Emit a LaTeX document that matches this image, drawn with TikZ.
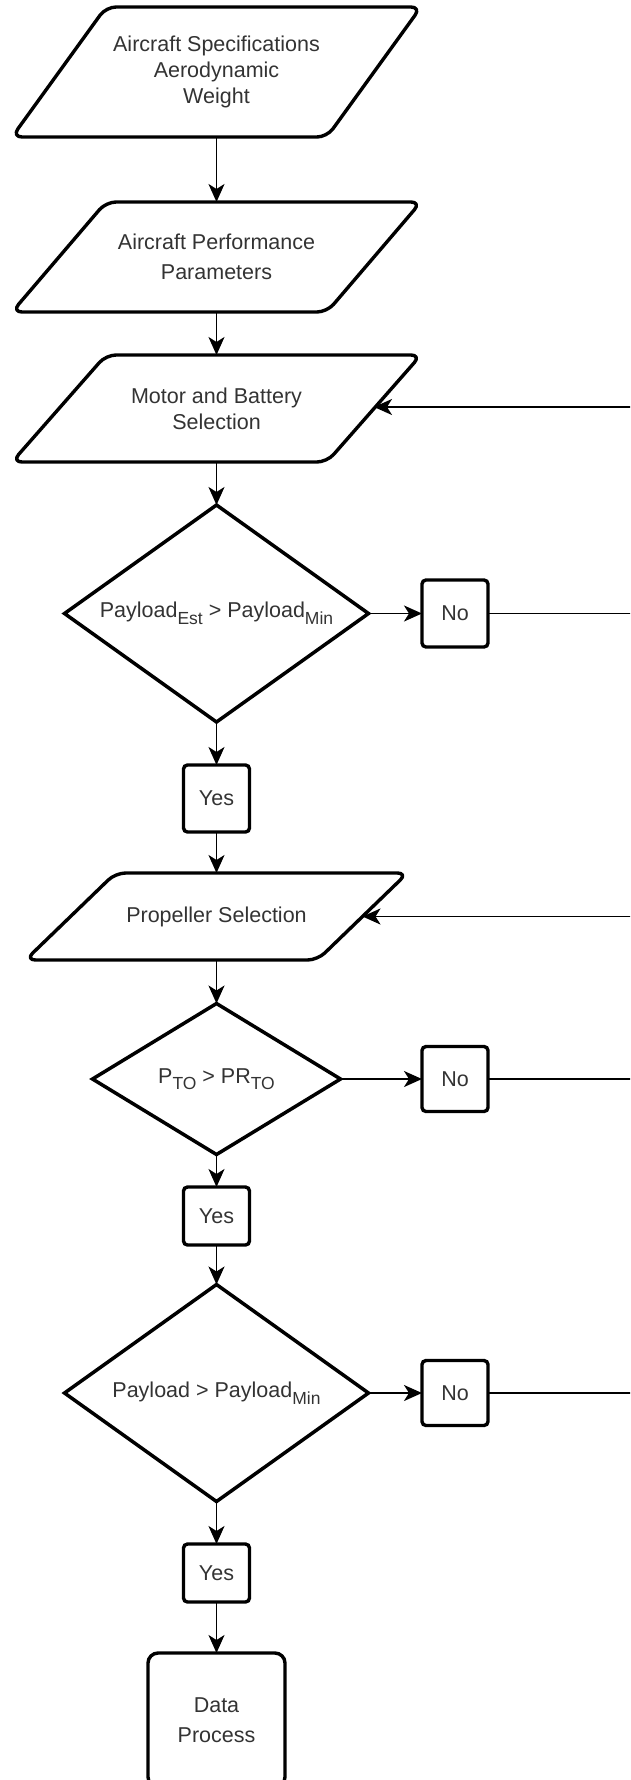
\documentclass[tikz,border=0pt]{standalone}
\usepackage{fontspec}
\setmainfont{Liberation Sans}
\usetikzlibrary{arrows.meta,calc}
\definecolor{txt}{HTML}{333333}
\newcommand{\sbs}[1]{\raisebox{-6.5pt}{\fontsize{17.5}{17.5}\selectfont #1}}
\begin{document}
\begin{tikzpicture}[x=1pt,y=-1pt,
  lbl/.style={inner sep=0pt, outer sep=0pt, text=txt, font=\fontsize{21.5}{26}\selectfont, align=center},
  shp/.style={draw=black, line width=3.4pt, rounded corners=10pt, line join=round},
  dia/.style={draw=black, line width=3.5pt, line join=miter},
  tbox/.style={lbl, draw=black, line width=3.4pt, rounded corners=4pt, minimum width=66pt},
  conn/.style={draw=black, line width=1.8pt, -{Stealth[length=18pt,width=16pt,inset=5pt]}},
  plainln/.style={draw=black, line width=1.8pt},
]
\useasboundingbox (0,0) rectangle (630,1780);
\clip (0,0) rectangle (630,1780);

% parallelogram boxes
\node[lbl, minimum width=409pt, minimum height=130pt] (p1) at (216.5,72) {Aircraft Specifications\\Aerodynamic\\Weight};
\draw[shp] ($(p1.north west)+(94,0)$) -- (p1.north east) -- ($(p1.south east)-(94,0)$) -- (p1.south west) -- cycle;

\node[lbl, minimum width=409pt, minimum height=110pt] (p2) at (216.5,257) {Aircraft Performance\\[4pt]Parameters};
\draw[shp] ($(p2.north west)+(94,0)$) -- (p2.north east) -- ($(p2.south east)-(94,0)$) -- (p2.south west) -- cycle;

\node[lbl, minimum width=409pt, minimum height=107pt] (p3) at (216.5,408.5) {Motor and Battery\\Selection};
\draw[shp] ($(p3.north west)+(94,0)$) -- (p3.north east) -- ($(p3.south east)-(94,0)$) -- (p3.south west) -- cycle;

\node[lbl, minimum width=382pt, minimum height=87pt] (p4) at (216.5,916.5) {Propeller Selection};
\draw[shp] ($(p4.north west)+(90,0)$) -- (p4.north east) -- ($(p4.south east)-(90,0)$) -- (p4.south west) -- cycle;

% decisions
\node[lbl, minimum width=304pt, minimum height=217pt] (d1) at (216.5,613.5) {Payload\sbs{Est} > Payload\sbs{Min}};
\draw[dia] (d1.north) -- (d1.east) -- (d1.south) -- (d1.west) -- cycle;

\node[lbl, minimum width=248pt, minimum height=151pt] (d2) at (216.5,1079) {P\sbs{TO} > PR\sbs{TO}};
\draw[dia] (d2.north) -- (d2.east) -- (d2.south) -- (d2.west) -- cycle;

\node[lbl, minimum width=304pt, minimum height=217pt] (d3) at (216.5,1393) {Payload > Payload\sbs{Min}};
\draw[dia] (d3.north) -- (d3.east) -- (d3.south) -- (d3.west) -- cycle;

% yes / no boxes
\node[tbox, minimum height=67pt] (no1) at (455,613.5) {No};
\node[tbox, minimum height=65pt] (no2) at (455,1079) {No};
\node[tbox, minimum height=65pt] (no3) at (455,1393) {No};
\node[tbox, minimum height=67pt] (yes1) at (216.5,798.5) {Yes};
\node[tbox, minimum height=58pt] (yes2) at (216.5,1216) {Yes};
\node[tbox, minimum height=58pt] (yes3) at (216.5,1573) {Yes};

\node[lbl, draw=black, line width=3.4pt, rounded corners=10pt, minimum width=137pt, minimum height=134pt] (data) at (216.5,1720) {Data\\[4pt]Process};

% connectors
\draw[conn] (p1.south) -- (p2.north);
\draw[conn] (p2.south) -- (p3.north);
\draw[conn] (p3.south) -- (d1.north);
\draw[conn] (d1.east) -- (no1.west);
\draw[conn] (d1.south) -- (yes1.north);
\draw[conn] (yes1.south) -- (p4.north);
\draw[conn] (p4.south) -- (d2.north);
\draw[conn] (d2.east) -- (no2.west);
\draw[conn] (d2.south) -- (yes2.north);
\draw[conn] (yes2.south) -- (d3.north);
\draw[conn] (d3.east) -- (no3.west);
\draw[conn] (d3.south) -- (yes3.north);
\draw[conn] (yes3.south) -- (data.north);

% lines leaving to the right
\coordinate (e1) at ($(no1.east)+(250,0)$);
\coordinate (e2) at ($(no2.east)+(250,0)$);
\coordinate (e3) at ($(no3.east)+(250,0)$);
\draw[plainln] (no1.east) -- (e1);
\draw[plainln] (no2.east) -- (e2);
\draw[plainln] (no3.east) -- (e3);

% feedback arrows coming from the right
\coordinate (t1) at ($(p3.east)+(-47,-1.5)$);
\coordinate (f1) at ($(t1)+(350,0)$);
\draw[conn] (f1) -- (t1);
\coordinate (t2) at ($(p4.east)+(-45,0)$);
\coordinate (f2) at ($(t2)+(350,0)$);
\draw[conn] (f2) -- (t2);
\end{tikzpicture}
\end{document}
